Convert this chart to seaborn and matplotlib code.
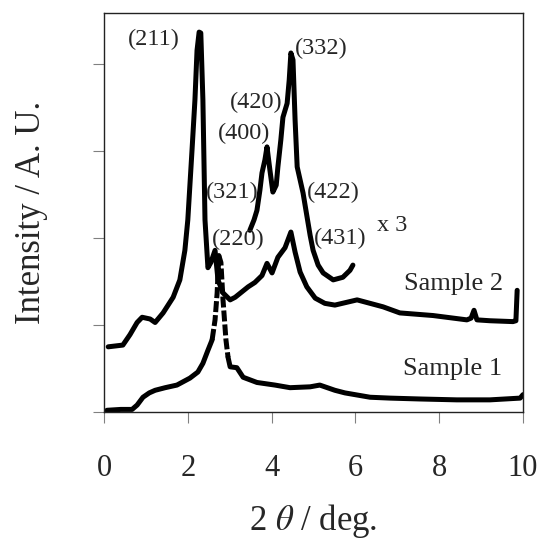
import numpy as np
import pandas as pd
import matplotlib
matplotlib.use("Agg")
import matplotlib.pyplot as plt
import seaborn as sns

# dane (2 theta, intensywnosc w j.u.)

s1_x = [0.07, 0.40, 0.67, 0.79, 0.93, 1.08, 1.22, 1.46, 1.74, 2.05, 2.24, 2.36, 2.48,
        2.58, 2.65, 2.70, 2.74, 2.79, 2.84, 2.91, 2.96, 3.01, 3.17, 3.32, 3.65, 4.08,
        4.44, 4.92, 5.15, 5.51, 5.75, 6.35, 6.83, 7.54, 8.42, 9.21, 9.93, 10.0]
s1_y = [0.02, 0.03, 0.03, 0.08, 0.17, 0.22, 0.25, 0.28, 0.31, 0.39, 0.46, 0.56, 0.71,
        0.83, 1.06, 1.37, 1.80, 1.72, 1.29, 0.83, 0.63, 0.52, 0.51, 0.40, 0.34, 0.31,
        0.28, 0.29, 0.31, 0.25, 0.22, 0.17, 0.16, 0.15, 0.14, 0.14, 0.16, 0.20]

s2_x = [0.10, 0.45, 0.62, 0.79, 0.91, 1.10, 1.22, 1.41, 1.65, 1.81, 1.93, 2.00, 2.10,
        2.17, 2.22, 2.27, 2.31, 2.36, 2.41, 2.48, 2.55, 2.65, 2.72, 2.84, 3.01, 3.13,
        3.44, 3.60, 3.77, 3.89, 4.01, 4.15, 4.32, 4.46, 4.56, 4.68, 4.84, 5.04, 5.27,
        5.51, 6.04, 6.66, 7.06, 7.85, 8.66, 8.76, 8.83, 8.90, 9.21, 9.76, 9.83, 9.86]
s2_y = [0.75, 0.77, 0.89, 1.03, 1.09, 1.07, 1.03, 1.14, 1.32, 1.52, 1.86, 2.21, 3.01,
        3.59, 4.16, 4.37, 4.36, 3.59, 2.21, 1.66, 1.72, 1.86, 1.52, 1.37, 1.29, 1.32,
        1.44, 1.49, 1.57, 1.71, 1.60, 1.78, 1.89, 2.07, 1.84, 1.61, 1.44, 1.31, 1.25,
        1.23, 1.29, 1.21, 1.14, 1.11, 1.06, 1.08, 1.17, 1.06, 1.05, 1.04, 1.05, 1.40]

# fragment sample 2 x3
s3_x = [3.48, 3.58, 3.65, 3.72, 3.77, 3.84, 3.89, 3.96, 4.03, 4.11, 4.15, 4.22, 4.27,
        4.32, 4.37, 4.42, 4.46, 4.51, 4.56, 4.61, 4.75, 4.84, 4.92, 4.99, 5.11, 5.23,
        5.47, 5.70, 5.87, 5.94]
s3_y = [2.09, 2.21, 2.32, 2.55, 2.75, 2.90, 3.05, 2.78, 2.53, 2.61, 2.82, 3.13, 3.39,
        3.47, 3.55, 3.82, 4.13, 4.05, 3.36, 2.82, 2.52, 2.26, 2.03, 1.86, 1.69, 1.60,
        1.52, 1.55, 1.63, 1.69]

# etykiety pikow
piki = ['(211)', '(332)', '(420)', '(400)', '(321)', '(422)', '(220)', '(431)']
piki_x = [1.19, 5.18, 3.63, 3.34, 3.05, 5.47, 3.20, 5.63]
piki_y = [4.29, 4.18, 3.56, 3.21, 2.52, 2.52, 1.99, 2.00]

sns.set_style("white")
plt.rcParams['font.family'] = ['Liberation Serif', 'DejaVu Serif']
plt.rcParams['mathtext.fontset'] = 'stix'

fig = plt.figure(figsize=(5.42, 5.41), dpi=100)
ax = fig.add_axes([0.1919, 0.2384, 0.7731, 0.7376])

df1 = pd.DataFrame({'x': s1_x, 'y': s1_y})
df2 = pd.DataFrame({'x': s2_x, 'y': s2_y})
df3 = pd.DataFrame({'x': s3_x, 'y': s3_y})

lw = 3.6

# sample 1 - stromy fragment piku przerywany jak w oryginale
strome = (df1['x'] >= 2.58) & (df1['x'] <= 2.96)
lewa = df1[df1['x'] <= 2.58]
prawa = df1[df1['x'] >= 2.96]
sns.lineplot(data=lewa, x='x', y='y', color='black', linewidth=lw, ax=ax)
sns.lineplot(data=prawa, x='x', y='y', color='black', linewidth=lw, ax=ax)
sns.lineplot(data=df1[strome], x='x', y='y', color='black', linewidth=lw,
             linestyle=(0, (2.2, 0.6)), ax=ax)

sns.lineplot(data=df2, x='x', y='y', color='black', linewidth=lw, ax=ax)
sns.lineplot(data=df3, x='x', y='y', color='black', linewidth=lw, ax=ax)

for t, px, py in zip(piki, piki_x, piki_y):
    ax.text(px, py, t, fontsize=17.5, ha='center', va='center')

ax.text(6.87, 2.14, 'x 3', fontsize=17.5, ha='center', va='center')
ax.text(8.35, 1.47, 'Sample 2', fontsize=19, ha='center', va='center')
ax.text(8.33, 0.49, 'Sample 1', fontsize=19, ha='center', va='center')

ax.set_xlim(0, 10)
ax.set_ylim(0, 4.59)
ax.set_xticks([0, 2, 4, 6, 8, 10])
ax.set_yticks([0, 1, 2, 3, 4])
ax.set_yticklabels([])
ax.tick_params(axis='both', direction='out', length=8, width=0.8, color='#808080',
               labelsize=22, pad=22)
ax.tick_params(axis='x', bottom=True)
ax.tick_params(axis='y', left=True)
for sp in ax.spines.values():
    sp.set_color('#222222')
    sp.set_linewidth(1.0)

ax.set_xlabel('2 $\\theta$ / deg.', fontsize=25, labelpad=14)
ax.set_ylabel('Intensity / A. U.', fontsize=25, labelpad=10)

fig.savefig('out.png', dpi=100)
